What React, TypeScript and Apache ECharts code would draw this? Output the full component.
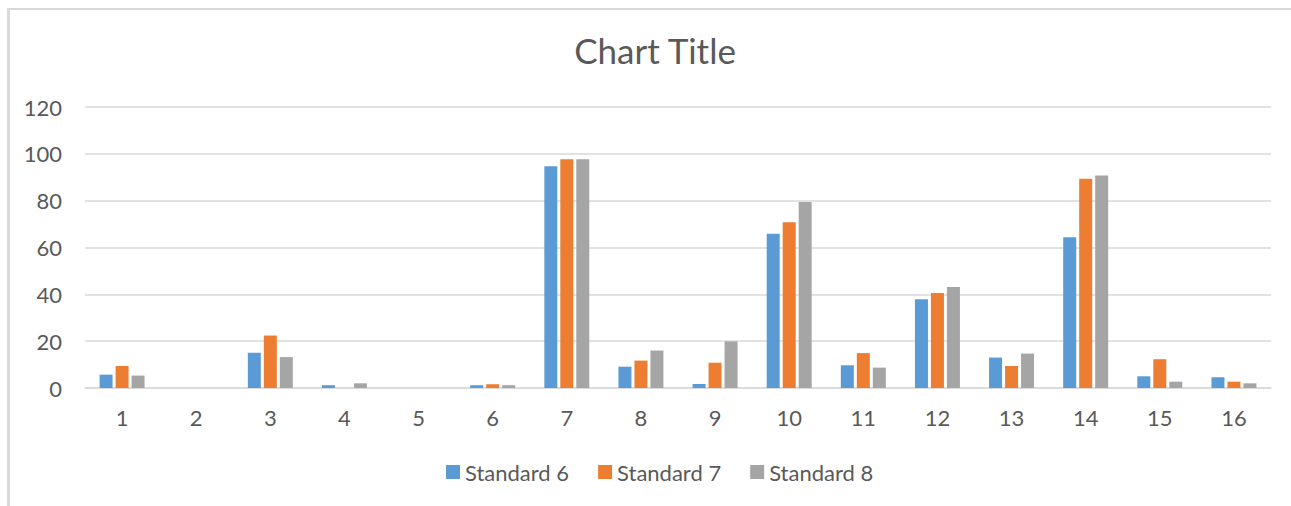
import React, { useEffect, useRef } from "react";
import * as echarts from "echarts";

const categories = ["1", "2", "3", "4", "5", "6", "7", "8", "9", "10", "11", "12", "13", "14", "15", "16"];
const standard6 = [5.7, 0, 15.1, 1.2, 0, 1.2, 94.7, 9.1, 1.7, 65.9, 9.7, 37.9, 13.0, 64.4, 5.0, 4.6];
const standard7 = [9.4, 0, 22.4, 0, 0, 1.6, 97.7, 11.7, 10.8, 70.8, 14.9, 40.6, 9.4, 89.4, 12.3, 2.7];
const standard8 = [5.3, 0, 13.2, 2.0, 0, 1.2, 97.7, 16.0, 19.9, 79.4, 8.7, 43.1, 14.7, 90.7, 2.7, 2.0];
const seriesNames = ["Standard 6", "Standard 7", "Standard 8"];
const colors = ["#5B9BD5", "#ED7D31", "#A5A5A5"];

const FONT = "Lato, 'Noto Sans', sans-serif";
const TEXT = "#595959";
const GRID = "#d9d9d9";

export default function App() {
  const ref = useRef<HTMLDivElement>(null);
  useEffect(() => {
    if (!ref.current) return;
    const chart = echarts.init(ref.current, null, { renderer: "svg" });
    const data = [standard6, standard7, standard8];
    chart.setOption({
      animation: false,
      backgroundColor: "#ffffff",
      textStyle: { fontFamily: FONT, color: TEXT },
      graphic: [
        { type: "rect", shape: { x: 7, y: 8, width: 3, height: 498 }, style: { fill: GRID } },
        { type: "rect", shape: { x: 7, y: 8, width: 1284, height: 2 }, style: { fill: GRID } },
        {
          type: "text",
          x: 655,
          y: 50,
          style: {
            text: "Chart Title",
            align: "center",
            verticalAlign: "middle",
            fontFamily: FONT,
            fontSize: 35,
            fill: TEXT,
          },
        },
      ],
      legend: {
        data: seriesNames,
        left: 446,
        top: 461,
        padding: 0,
        itemWidth: 14,
        itemHeight: 14,
        itemGap: 29,
        icon: "rect",
        textStyle: { fontFamily: FONT, fontSize: 22, color: TEXT },
      },
      grid: { left: 85, right: 20, top: 107, bottom: 118, containLabel: false },
      xAxis: {
        type: "category",
        data: categories,
        axisLine: { lineStyle: { color: GRID, width: 1.5 } },
        axisTick: { show: false },
        axisLabel: { fontFamily: FONT, fontSize: 22, color: TEXT, margin: 18 },
      },
      yAxis: {
        type: "value",
        min: 0,
        max: 120,
        interval: 20,
        axisLine: { show: false },
        axisTick: { show: false },
        splitLine: { lineStyle: { color: GRID, width: 1.5 } },
        axisLabel: { fontFamily: FONT, fontSize: 22, color: TEXT, margin: 23 },
      },
      series: seriesNames.map((name, i) => ({
        name,
        type: "bar",
        data: data[i],
        barWidth: 13,
        barGap: "23%",
        itemStyle: { color: colors[i] },
      })),
    });
    return () => chart.dispose();
  }, []);
  return (
    <div style={{ position: "fixed", left: 0, top: 0, width: 1291, height: 506, overflow: "hidden", background: "#fff" }}>
      <div ref={ref} style={{ width: 1291, height: 506 }} />
    </div>
  );
}
